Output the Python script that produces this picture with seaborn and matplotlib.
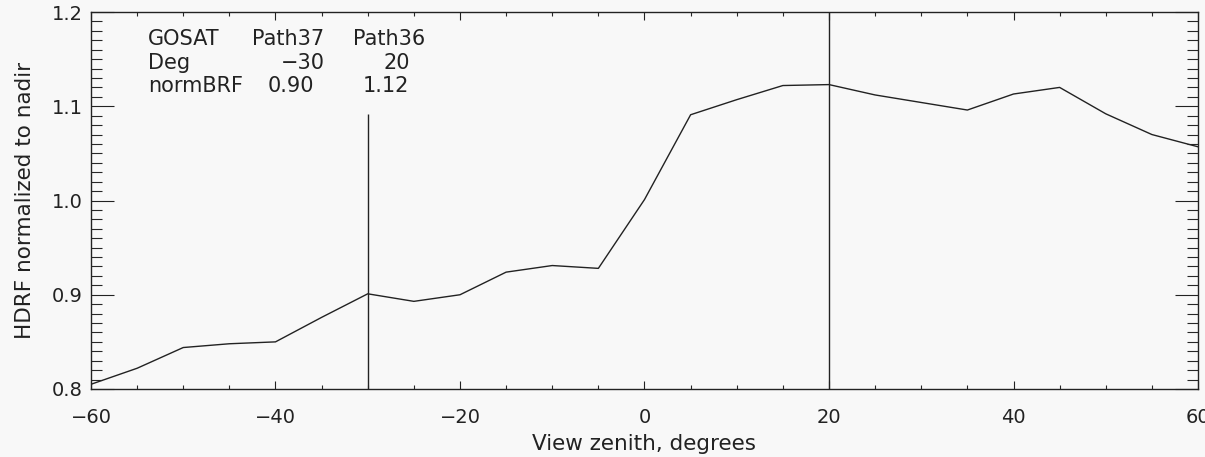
import numpy as np
import pandas as pd
import matplotlib
matplotlib.use("Agg")
import matplotlib.pyplot as plt
import seaborn as sns
from matplotlib.ticker import MultipleLocator, FormatStrFormatter

# ---- data ----
view_zenith = [-60, -55, -50, -45, -40, -35, -30, -25, -20, -15, -10, -5, 0,
               5, 10, 15, 20, 25, 30, 35, 40, 45, 50, 55, 60]
hdrf = [0.805, 0.822, 0.844, 0.848, 0.850, 0.876, 0.901, 0.893, 0.900, 0.924,
        0.931, 0.928, 1.001, 1.091, 1.107, 1.122, 1.123, 1.112, 1.104, 1.096,
        1.113, 1.120, 1.092, 1.070, 1.057]
marker_deg = [-30, 20]
marker_top = [1.092, 1.2]
row_header = ["GOSAT", "Path37", "Path36"]
row_deg = ["Deg", "\u221230", "20"]
row_brf = ["normBRF", "0.90", "1.12"]

bg = "#f8f8f8"
ink = "#222222"

sns.set_theme(style="ticks")
plt.rcParams['font.family'] = ['DejaVu Sans']

fig = plt.figure(figsize=(12.05, 4.57), dpi=100, facecolor=bg)
ax = fig.add_axes([0.0755, 0.1488, 0.9187, 0.8249])
ax.set_facecolor(bg)

df = pd.DataFrame({"zenith": view_zenith, "hdrf": hdrf})
sns.lineplot(data=df, x="zenith", y="hdrf", ax=ax, color=ink, linewidth=1.0)
ax.vlines(marker_deg, 0.8, marker_top, color=ink, linewidth=1.0)

ax.set_xlim(-60, 60)
ax.set_ylim(0.8, 1.2)
ax.xaxis.set_major_locator(MultipleLocator(20))
ax.xaxis.set_minor_locator(MultipleLocator(5))
ax.yaxis.set_major_locator(MultipleLocator(0.1))
ax.yaxis.set_minor_locator(MultipleLocator(0.01))
ax.yaxis.set_major_formatter(FormatStrFormatter('%.1f'))

ax.tick_params(axis='x', which='major', direction='in', length=5.8, width=0.8,
               top=True, bottom=True, pad=14, labelsize=14, colors=ink)
ax.tick_params(axis='x', which='minor', direction='in', length=2.9, width=0.8,
               top=True, bottom=True)
ax.tick_params(axis='y', which='major', direction='in', length=16.5, width=0.8,
               left=True, right=True, pad=6, labelsize=14, colors=ink)
ax.tick_params(axis='y', which='minor', direction='in', length=8, width=0.8,
               left=True, right=True)
for s in ax.spines.values():
    s.set_color(ink)
    s.set_linewidth(1.0)

ax.set_xlabel("View zenith, degrees", fontsize=15.5, color=ink, labelpad=5)
ax.set_ylabel("HDRF normalized to nadir", fontsize=15.5, color=ink, labelpad=12)

# annotation table
fs = 15
rows_y = [0.9125, 0.850, 0.788]
tr = ax.transAxes
ax.text(0.0515, rows_y[0], row_header[0], transform=tr, fontsize=fs, color=ink, va='baseline')
ax.text(0.1454, rows_y[0], row_header[1], transform=tr, fontsize=fs, color=ink, va='baseline')
ax.text(0.2367, rows_y[0], row_header[2], transform=tr, fontsize=fs, color=ink, va='baseline')
ax.text(0.0515, rows_y[1], row_deg[0], transform=tr, fontsize=fs, color=ink, va='baseline')
ax.text(0.2114, rows_y[1], row_deg[1], transform=tr, fontsize=fs, color=ink, va='baseline', ha='right')
ax.text(0.2880, rows_y[1], row_deg[2], transform=tr, fontsize=fs, color=ink, va='baseline', ha='right')
ax.text(0.0515, rows_y[2], row_brf[0], transform=tr, fontsize=fs, color=ink, va='baseline')
ax.text(0.1600, rows_y[2], row_brf[1], transform=tr, fontsize=fs, color=ink, va='baseline')
ax.text(0.2455, rows_y[2], row_brf[2], transform=tr, fontsize=fs, color=ink, va='baseline')

fig.savefig("out.png", dpi=100, facecolor=bg)
